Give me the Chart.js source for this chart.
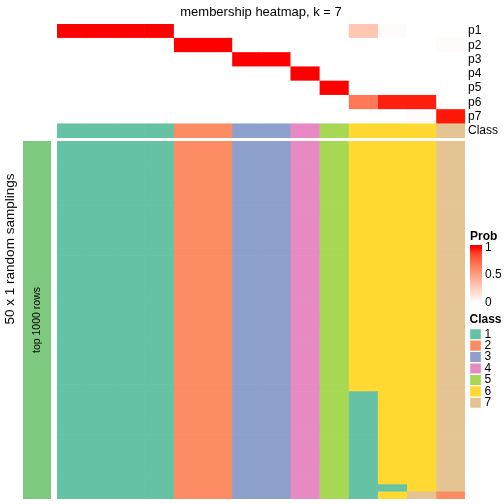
<!DOCTYPE html>
<html>
<head>
<meta charset="utf-8">
<script src="https://cdn.jsdelivr.net/npm/chart.js@4.4.1/dist/chart.umd.min.js"></script>
<style>
  html, body { margin: 0; padding: 0; background: #fff; }
  #wrap { position: relative; width: 504px; height: 504px; overflow: hidden; font-family: 'Liberation Sans', Arial, sans-serif; }
  canvas { position: absolute; }
  #rowTitle {
    position: absolute; left: -90px; top: 240px; width: 200px; height: 18px;
    line-height: 18px; text-align: center; transform: rotate(-90deg);
    font-size: 13.5px; font-weight: normal; white-space: nowrap; color: #000;
  }
</style>
</head>
<body>
<div id="wrap">
  <canvas id="memberChart" width="504" height="140" style="left:0;top:0"></canvas>
  <canvas id="samplingChart" width="504" height="364" style="left:0;top:140px"></canvas>
  <canvas id="topRowsChart" width="57" height="364" style="left:0;top:140px"></canvas>
  <canvas id="probLegend" width="40" height="85" style="left:464px;top:225px"></canvas>
  <canvas id="classLegend" width="40" height="105" style="left:464px;top:310px"></canvas>
  <div id="rowTitle">50 x 1 random samplings</div>
</div>
<script>
// ---- data ----
const columnClass = [1, 1, 1, 1, 2, 2, 3, 3, 4, 5, 6, 6, 6, 7];

const p1 = [1, 1, 1, 1, 0, 0, 0, 0, 0, 0, 0.3, 0.02, 0, 0];
const p2 = [0, 0, 0, 0, 1, 1, 0, 0, 0, 0, 0, 0, 0, 0.02];
const p3 = [0, 0, 0, 0, 0, 0, 1, 1, 0, 0, 0, 0, 0, 0];
const p4 = [0, 0, 0, 0, 0, 0, 0, 0, 1, 0, 0, 0, 0, 0];
const p5 = [0, 0, 0, 0, 0, 0, 0, 0, 0, 1, 0, 0, 0, 0];
const p6 = [0, 0, 0, 0, 0, 0, 0, 0, 0, 0, 0.68, 0.97, 0.97, 0];
const p7 = [0, 0, 0, 0, 0, 0, 0, 0, 0, 0, 0, 0, 0.02, 0.98];
const probLabels = ['p1', 'p2', 'p3', 'p4', 'p5', 'p6', 'p7'];

// one string per sampling, one class digit per column
const samplingRows = [
  '11112233456667', '11112233456667', '11112233456667', '11112233456667', '11112233456667',
  '11112233456667', '11112233456667', '11112233456667', '11112233456667', '11112233456667',
  '11112233456667', '11112233456667', '11112233456667', '11112233456667', '11112233456667',
  '11112233456667', '11112233456667', '11112233456667', '11112233456667', '11112233456667',
  '11112233456667', '11112233456667', '11112233456667', '11112233456667', '11112233456667',
  '11112233456667', '11112233456667', '11112233456667', '11112233456667', '11112233456667',
  '11112233456667', '11112233456667', '11112233456667', '11112233456667', '11112233456667',
  '11112233451667', '11112233451667', '11112233451667', '11112233451667', '11112233451667',
  '11112233451667', '11112233451667', '11112233451667', '11112233451667', '11112233451667',
  '11112233451667', '11112233451667', '11112233451667', '11112233451167', '11112233451672'
];

const classLabels = ['1', '2', '3', '4', '5', '6', '7'];
const probTicks = [0, 0.5, 1];
const probLegendRange = [-0.02, 1.04];
const rowAnnotation = ['top 1000 rows'];

const classColors = {
  1: '#66C2A5', 2: '#FC8D62', 3: '#8DA0CB', 4: '#E78AC3',
  5: '#A6D854', 6: '#FFD92F', 7: '#E5C494'
};
const annotationColor = '#7FC97F';

// white -> red in LAB space
function labToHex(L, a, b) {
  const fy = (L + 16) / 116, fx = fy + a / 500, fz = fy - b / 200;
  const f = t => (t ** 3 > 0.008856 ? t ** 3 : (t - 16 / 116) / 7.787);
  const X = 0.95047 * f(fx), Y = f(fy), Z = 1.08883 * f(fz);
  const lin = [
    3.2406 * X - 1.5372 * Y - 0.4986 * Z,
    -0.9689 * X + 1.8758 * Y + 0.0415 * Z,
    0.0557 * X - 0.2040 * Y + 1.0570 * Z
  ];
  return '#' + lin.map(c => {
    c = Math.min(1, Math.max(0, c));
    c = c <= 0.0031308 ? 12.92 * c : 1.055 * Math.pow(c, 1 / 2.4) - 0.055;
    return Math.round(c * 255).toString(16).padStart(2, '0');
  }).join('');
}
function probColor(p) {
  return labToHex(100 + (53.2408 - 100) * p, 80.0925 * p, 67.2032 * p);
}

Chart.defaults.font.family = "'Liberation Sans', Arial, Helvetica, sans-serif";
Chart.defaults.color = '#000';
Chart.defaults.animation = false;
Chart.defaults.responsive = false;
Chart.defaults.plugins.legend.display = false;
Chart.defaults.plugins.tooltip.enabled = false;

const cellBars = { barPercentage: 1, categoryPercentage: 1, grouped: false, borderWidth: 0 };
const noPad = (w) => (s) => { s.width = w; s.paddingTop = 0; s.paddingBottom = 0; };

// ---- membership heatmap (top) ----
const probMatrix = [p1, p2, p3, p4, p5, p6, p7];
const topRows = probLabels.concat('Class');

new Chart(document.getElementById('memberChart'), {
  type: 'bar',
  data: {
    labels: topRows,
    datasets: columnClass.map((cls, j) => ({
      data: topRows.map(() => [j, j + 1]),
      backgroundColor: probMatrix.map(row => probColor(row[j])).concat(classColors[cls])
    }))
  },
  options: {
    indexAxis: 'y',
    layout: { padding: { left: 57, right: 0, top: 0, bottom: 2 } },
    datasets: { bar: cellBars },
    scales: {
      x: { type: 'linear', min: 0, max: columnClass.length, display: false },
      y: {
        position: 'right',
        grid: { display: false, drawTicks: false },
        border: { display: false },
        ticks: { autoSkip: false, padding: 3, font: { size: 12 } },
        afterFit: noPad(39)
      }
    },
    plugins: {
      title: {
        display: true, text: 'membership heatmap, k = 7', fullSize: false,
        font: { size: 13, weight: 'normal' }, padding: { top: 5, bottom: 3.4 }
      }
    }
  }
});

// ---- sampling heatmap (bottom) ----
new Chart(document.getElementById('samplingChart'), {
  type: 'bar',
  data: {
    labels: samplingRows.map((_, i) => i + 1),
    datasets: columnClass.map((_, j) => ({
      data: samplingRows.map(() => [j, j + 1]),
      backgroundColor: samplingRows.map(r => classColors[r[j]])
    }))
  },
  options: {
    indexAxis: 'y',
    layout: { padding: { left: 57, right: 39, top: 1, bottom: 5 } },
    datasets: { bar: cellBars },
    scales: {
      x: { type: 'linear', min: 0, max: columnClass.length, display: false },
      y: { display: false }
    }
  }
});

// ---- row annotation bar ----
const barLabel = {
  id: 'barLabel',
  afterDatasetsDraw(chart) {
    const { ctx, chartArea: a } = chart;
    ctx.save();
    ctx.translate((a.left + a.right) / 2, (a.top + a.bottom) / 2);
    ctx.rotate(-Math.PI / 2);
    ctx.font = "10.5px 'Liberation Sans', Arial, sans-serif";
    ctx.fillStyle = '#000';
    ctx.textAlign = 'center';
    ctx.textBaseline = 'middle';
    ctx.fillText(chart.data.labels[0], 0, 0);
    ctx.restore();
  }
};

new Chart(document.getElementById('topRowsChart'), {
  type: 'bar',
  data: {
    labels: rowAnnotation,
    datasets: [{ data: [[0, 1]], backgroundColor: annotationColor }]
  },
  options: {
    indexAxis: 'y',
    layout: { padding: { left: 23, right: 6, top: 1, bottom: 5 } },
    datasets: { bar: cellBars },
    scales: {
      x: { type: 'linear', min: 0, max: 1, display: false },
      y: { display: false }
    }
  },
  plugins: [barLabel]
});

// ---- Prob legend ----
new Chart(document.getElementById('probLegend'), {
  type: 'bar',
  data: {
    labels: ['Prob'],
    datasets: [{
      data: [probLegendRange],
      backgroundColor: (c) => {
        const chart = c.chart;
        const y = chart.scales.y;
        if (!chart.chartArea || !y) return probColor(0.5);
        const y0 = y.getPixelForValue(0), y1 = y.getPixelForValue(1);
        if (!isFinite(y0) || !isFinite(y1)) return probColor(0.5);
        const g = chart.ctx.createLinearGradient(0, y0, 0, y1);
        for (let i = 0; i <= 10; i++) g.addColorStop(i / 10, probColor(i / 10));
        return g;
      }
    }]
  },
  options: {
    layout: { padding: { left: 6, right: 0, top: 0, bottom: 6.7 } },
    datasets: { bar: cellBars },
    scales: {
      x: { display: false },
      y: {
        position: 'right', min: probLegendRange[0], max: probLegendRange[1], z: 1,
        afterBuildTicks: s => { s.ticks = probTicks.map(v => ({ value: v })); },
        grid: { color: '#fff', drawTicks: false },
        border: { display: false, dash: [3, 6] },
        ticks: { padding: 3, font: { size: 12 }, callback: v => String(v) },
        afterFit: noPad(22)
      }
    },
    plugins: {
      title: {
        display: true, text: 'Prob', align: 'start',
        font: { size: 12, weight: 'bold' }, padding: { top: 4, bottom: 1.6 }
      }
    }
  }
});

// ---- Class legend ----
new Chart(document.getElementById('classLegend'), {
  type: 'bar',
  data: {
    labels: classLabels,
    datasets: [{
      data: classLabels.map(() => [0, 1]),
      backgroundColor: classLabels.map(k => classColors[k]),
      borderColor: '#fff',
      borderWidth: 1,
      borderSkipped: false
    }]
  },
  options: {
    indexAxis: 'y',
    layout: { padding: { left: 5.5, right: 0, top: 0, bottom: 6.5 } },
    datasets: { bar: { barPercentage: 1, categoryPercentage: 1 } },
    scales: {
      x: { type: 'linear', min: 0, max: 1, display: false },
      y: {
        position: 'right',
        grid: { display: false, drawTicks: false },
        border: { display: false },
        ticks: { autoSkip: false, padding: 3, font: { size: 12 } },
        afterFit: noPad(22.5)
      }
    },
    plugins: {
      title: {
        display: true, text: 'Class', align: 'start',
        font: { size: 12, weight: 'bold' }, padding: { top: 2.8, bottom: 1.3 }
      }
    }
  }
});
</script>
</body>
</html>
